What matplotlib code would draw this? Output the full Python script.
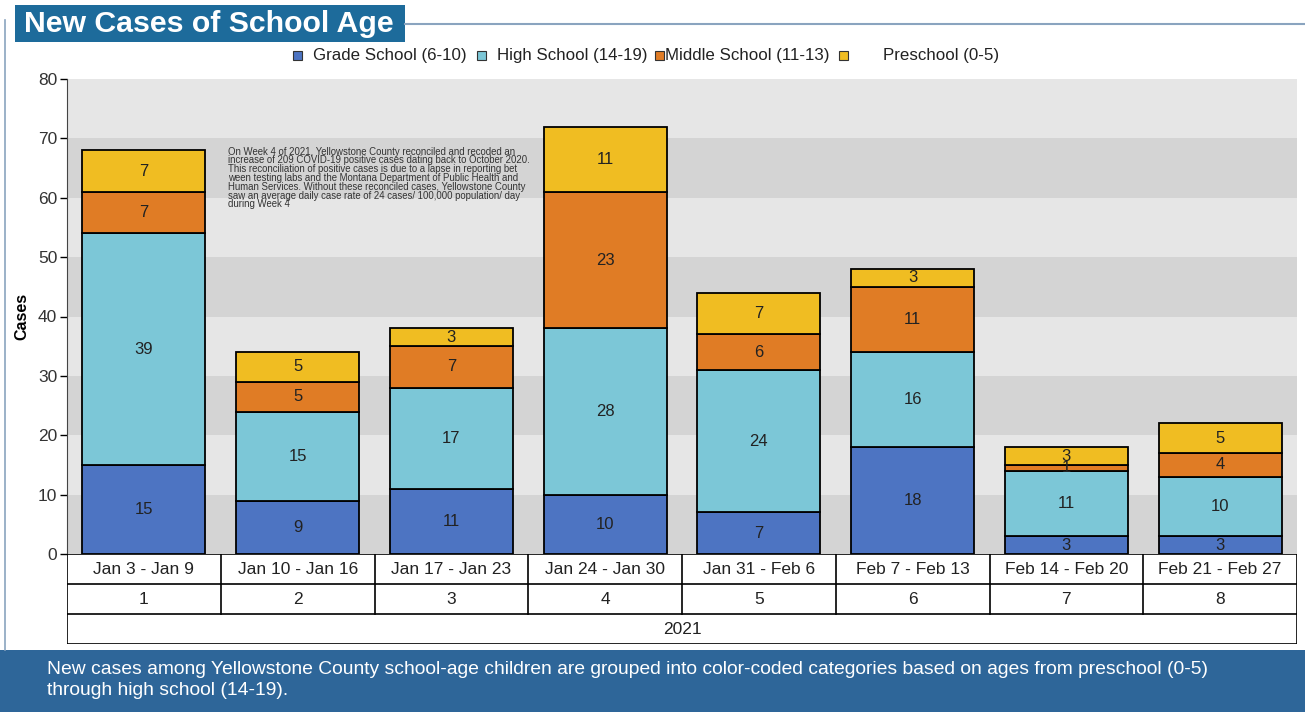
import matplotlib.pyplot as plt
from matplotlib.patches import Rectangle
from matplotlib.lines import Line2D

plt.rcParams['font.family'] = ['Liberation Sans', 'DejaVu Sans']

weeks = ["Jan 3 - Jan 9", "Jan 10 - Jan 16", "Jan 17 - Jan 23", "Jan 24 - Jan 30",
         "Jan 31 - Feb 6", "Feb 7 - Feb 13", "Feb 14 - Feb 20", "Feb 21 - Feb 27"]
week_nums = ["1", "2", "3", "4", "5", "6", "7", "8"]
year = "2021"

grade = [15, 9, 11, 10, 7, 18, 3, 3]
high = [39, 15, 17, 28, 24, 16, 11, 10]
middle = [7, 5, 7, 23, 6, 11, 1, 4]
preschool = [7, 5, 3, 11, 7, 3, 3, 5]

series = [
    ("Grade School (6-10)", grade, "#4d74c2"),
    ("High School (14-19)", high, "#7cc7d7"),
    ("Middle School (11-13)", middle, "#e07c25"),
    ("Preschool (0-5)", preschool, "#f0bd22"),
]

note = ("On Week 4 of 2021, Yellowstone County reconciled and recoded an\n"
        "increase of 209 COVID-19 positive cases dating back to October 2020.\n"
        "This reconciliation of positive cases is due to a lapse in reporting bet\n"
        "ween testing labs and the Montana Department of Public Health and\n"
        "Human Services. Without these reconciled cases, Yellowstone County\n"
        "saw an average daily case rate of 24 cases/ 100,000 population/ day\n"
        "during Week 4")

W, H = 1305, 712
fig = plt.figure(figsize=(W / 100, H / 100), dpi=100)


def fx(px):
    return px / W


def fy(py):
    return 1 - py / H


# main plot
ax = fig.add_axes([fx(67), fy(554), fx(1297) - fx(67), fy(79) - fy(554)])
x = list(range(len(weeks)))
for i in range(8):
    ax.axhspan(i * 10, (i + 1) * 10, color="#d4d4d4" if i % 2 == 0 else "#e6e6e6", lw=0, zorder=0)

bottom = [0] * len(weeks)
for name, vals, col in series:
    ax.bar(x, vals, bottom=bottom, width=0.8, color=col, edgecolor="black", lw=1.3, zorder=2)
    for xi, v, b in zip(x, vals, bottom):
        ax.text(xi, b + v / 2, str(v), ha="center", va="center", fontsize=12, color="#222222", zorder=3)
    bottom = [b + v for b, v in zip(bottom, vals)]

ax.set_xlim(-0.5, len(weeks) - 0.5)
ax.set_ylim(0, 80)
ax.set_yticks(range(0, 81, 10))
ax.tick_params(axis="y", labelsize=12.5, labelcolor="#333333", length=5, width=1, pad=2)
ax.set_xticks([])
for s in ["top", "right", "bottom"]:
    ax.spines[s].set_visible(False)
ax.spines["left"].set_color("#444444")
ax.set_ylabel("Cases", fontsize=11.5, fontweight="bold", labelpad=6)

ax.text(0.547, 68.6, note, fontsize=6.9, va="top", ha="left", color="#333333", linespacing=0.85, zorder=4)

# table under the axis
tab = fig.add_axes([fx(67), fy(644), fx(1297) - fx(67), fy(554) - fy(644)])
tab.set_xlim(-0.5, len(weeks) - 0.5)
tab.set_ylim(0, 3)
tab.axis("off")
lk = dict(color="black", lw=1.2)
for yv in [0, 1, 2, 3]:
    tab.plot([-0.5, len(weeks) - 0.5], [yv, yv], **lk)
for xv in range(len(weeks) + 1):
    tab.plot([xv - 0.5, xv - 0.5], [1, 3], **lk)
tab.plot([-0.5, -0.5], [0, 1], **lk)
tab.plot([len(weeks) - 0.5] * 2, [0, 1], **lk)
for xi, (w, n) in enumerate(zip(weeks, week_nums)):
    tab.text(xi, 2.5, w, ha="center", va="center", fontsize=12.5, color="#222222")
    tab.text(xi, 1.5, n, ha="center", va="center", fontsize=12.5, color="#222222")
tab.text((len(weeks) - 1) / 2, 0.5, year, ha="center", va="center", fontsize=12.5, color="#222222")

# legend
leg_x = [297, 481, 659, 843]
txt_x = [313, 497, 665, 883]
for (name, vals, col), mx, tx in zip(series, leg_x, txt_x):
    fig.patches.append(Rectangle((fx(mx - 4.5), fy(60)), fx(9), fy(51) - fy(60), facecolor=col,
                                 edgecolor="#333333", lw=0.8, transform=fig.transFigure))
    fig.text(fx(tx), fy(55.5), name, fontsize=12.2, va="center", ha="left", color="#222222")

# frame and title
frame = "#8aa4bf"
fig.lines.append(Line2D([fx(5), fx(5)], [fy(20), fy(650)], color=frame, lw=1.2, transform=fig.transFigure))
fig.lines.append(Line2D([fx(405), fx(1305)], [fy(24), fy(24)], color=frame, lw=1.5, transform=fig.transFigure))
fig.patches.append(Rectangle((fx(15), fy(42)), fx(405) - fx(15), fy(5) - fy(42), facecolor="#1d6b9b",
                             lw=0, transform=fig.transFigure))
fig.text(fx(24), fy(24), "New Cases of School Age", fontsize=21.8, fontweight="bold", color="white",
         va="center", ha="left")

# bottom caption band
fig.patches.append(Rectangle((0, 0), 1, fy(650), facecolor="#2e6699", lw=0, transform=fig.transFigure))
fig.text(fx(47), fy(680),
         "New cases among Yellowstone County school-age children are grouped into color-coded categories "
         "based on ages from preschool (0-5)\nthrough high school (14-19).",
         fontsize=13.9, color="white", va="center", ha="left", linespacing=1.25)

fig.savefig("out.png", dpi=100)
